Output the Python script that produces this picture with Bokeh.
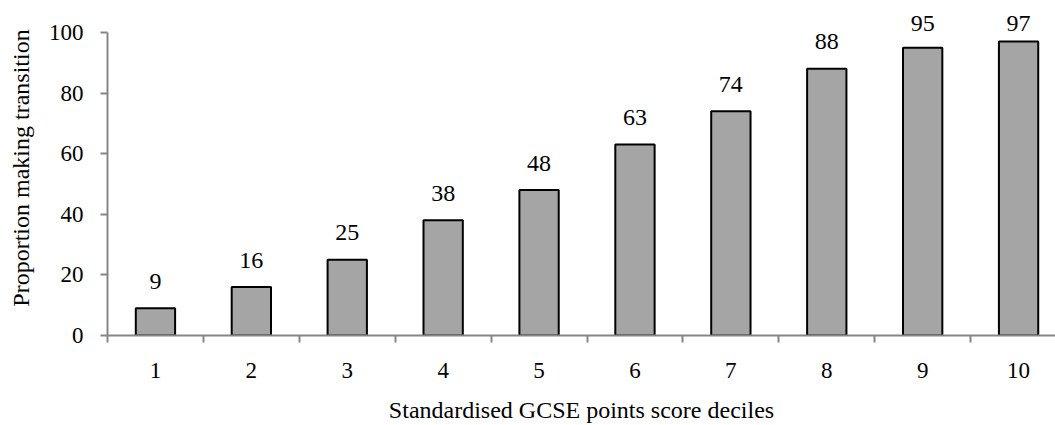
from bokeh.plotting import figure
from bokeh.models import FixedTicker, Range1d
from bokeh.core.properties import value
from bokeh.embed import file_html
from bokeh.resources import INLINE

# Proportion (%) making the transition, by standardised GCSE points score decile
deciles = [1, 2, 3, 4, 5, 6, 7, 8, 9, 10]
proportion = [9, 16, 25, 38, 48, 63, 74, 88, 95, 97]
y_ticks = [0, 20, 40, 60, 80, 100]
x_title = "Standardised GCSE points score deciles"
y_title = "Proportion making transition"

FONT = "Liberation Serif"
AXIS_GREY = "#868686"
LABEL_CEILING = 94  # value labels of the tallest bars are held below the top edge

# y range runs past 100 so the value labels above the tallest bars stay visible;
# the axis itself is bounded to 0-100
p = figure(
    width=1055, height=425,
    x_range=Range1d(0.5, 10.385), y_range=Range1d(0, 110.56),
    output_backend="svg", toolbar_location=None,
    min_border_left=107, min_border_right=0,
    min_border_top=0, min_border_bottom=90,
)
p.outline_line_color = None
p.xgrid.grid_line_color = None
p.ygrid.grid_line_color = None

p.vbar(x=deciles, top=proportion, width=0.41,
       fill_color="#A5A5A5", line_color="#000000", line_width=2)

label_y = [min(v, LABEL_CEILING) for v in proportion]
p.text(x=deciles, y=label_y, text=[str(v) for v in proportion],
       text_align="center", text_baseline="alphabetic", y_offset=-27,
       text_font=value(FONT), text_font_size="24px", text_color="#000000")

# category labels at bar centres, tick marks at category boundaries
boundaries = [d - 0.5 for d in deciles] + [deciles[-1] + 0.5]
xa = p.xaxis[0]
xa.ticker = FixedTicker(ticks=deciles, minor_ticks=boundaries)
xa.major_tick_out = 0
xa.major_tick_in = 0
xa.minor_tick_out = 7
xa.minor_tick_in = 0
xa.minor_tick_line_color = AXIS_GREY
xa.minor_tick_line_width = 2
xa.axis_line_color = AXIS_GREY
xa.axis_line_width = 2
xa.major_label_standoff = 20
xa.major_label_text_font = FONT
xa.major_label_text_font_size = "23px"
xa.major_label_text_color = "#000000"
xa.axis_label = x_title
xa.axis_label_text_font = FONT
xa.axis_label_text_font_size = "24px"
xa.axis_label_text_font_style = "normal"
xa.axis_label_text_color = "#000000"
xa.axis_label_standoff = 16

ya = p.yaxis[0]
ya.ticker = FixedTicker(ticks=y_ticks)
ya.bounds = (0, 100)
ya.minor_tick_line_color = None
ya.major_tick_out = 7
ya.major_tick_in = 0
ya.major_tick_line_color = AXIS_GREY
ya.major_tick_line_width = 2
ya.axis_line_color = AXIS_GREY
ya.axis_line_width = 2
ya.major_label_standoff = 17
ya.major_label_text_font = FONT
ya.major_label_text_font_size = "23px"
ya.major_label_text_color = "#000000"
ya.axis_label = y_title
ya.axis_label_text_font = FONT
ya.axis_label_text_font_size = "24px"
ya.axis_label_text_font_style = "normal"
ya.axis_label_text_color = "#000000"
ya.axis_label_standoff = 12

open("out.html", "w").write(file_html(p, INLINE))
